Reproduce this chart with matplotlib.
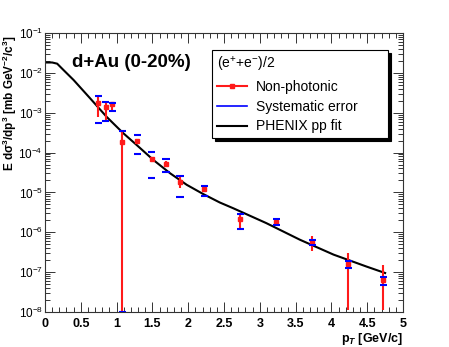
import numpy as np
import matplotlib
matplotlib.use('Agg')
import matplotlib.pyplot as plt
from matplotlib.lines import Line2D
from matplotlib.ticker import MultipleLocator, LogLocator, NullFormatter

plt.rcParams['font.family'] = ['Liberation Sans', 'DejaVu Sans']
plt.rcParams['mathtext.fontset'] = 'custom'
plt.rcParams['mathtext.rm'] = 'Liberation Sans:bold'
plt.rcParams['mathtext.it'] = 'Liberation Sans:bold:italic'
plt.rcParams['mathtext.bf'] = 'Liberation Sans:bold'

# Non-photonic electrons, d+Au 0-20%
pt = [0.745, 0.85, 0.94, 1.08, 1.29, 1.49, 1.69, 1.885, 2.225, 2.73, 3.23, 3.73, 4.235, 4.725]
yval = [1.79e-3, 1.37e-3, 1.62e-3, 1.86e-4, 2.0e-4, 6.8e-5, 5.1e-5, 1.86e-5, 1.2e-5,
        2.14e-6, 1.82e-6, 5.6e-7, 1.58e-7, 6.2e-8]
stat_lo = [7.9e-4, 6.3e-4, 1.12e-3, 1e-9, 1.87e-4, 6.0e-5, 4.6e-5, 1.29e-5, 1.07e-5,
           1.2e-6, 1.58e-6, 3.3e-7, 1.1e-8, 1.1e-8]
stat_hi = [2.5e-3, 2.0e-3, 1.82e-3, 3.4e-4, 2.14e-4, 7.6e-5, 6.0e-5, 2.5e-5, 1.41e-5,
           2.75e-6, 2.19e-6, 8.1e-7, 3.0e-7, 1.55e-7]
sys_lo = [5.5e-4, 6.3e-4, 1.1e-3, 1e-8, 9.3e-5, 2.3e-5, 3.2e-5, 7.9e-6, 8.3e-6,
          1.2e-6, 1.48e-6, 4.7e-7, 1.26e-7, 4.8e-8]
sys_hi = [2.7e-3, 1.9e-3, 1.78e-3, 3.55e-4, 2.8e-4, 1.05e-4, 6.8e-5, 2.6e-5, 1.48e-5,
          2.9e-6, 2.1e-6, 6.5e-7, 1.95e-7, 7.6e-8]

# PHENIX pp fit (scaled)
fit_pt = [0.0, 0.10, 0.17, 0.26, 0.40, 0.63, 0.86, 1.09, 1.28, 1.51, 1.75, 1.98, 2.21,
          2.44, 2.63, 3.09, 3.56, 4.03, 4.49, 4.75]
fit_y = [1.82e-2, 1.82e-2, 1.7e-2, 1.17e-2, 6.6e-3, 2.3e-3, 7.9e-4, 3.1e-4, 1.55e-4,
         6.6e-5, 3.0e-5, 1.55e-5, 9.1e-6, 5.6e-6, 4.0e-6, 1.7e-6, 6.5e-7, 2.75e-7,
         1.38e-7, 9.5e-8]

x = np.array(pt)
y = np.array(yval)

fig = plt.figure(figsize=(4.49, 3.47), dpi=100)
ax = fig.add_axes([0.1002, 0.1009, 0.7974, 0.8040])

ax.plot(fit_pt, fit_y, color='black', lw=1.5, zorder=2)

yerr = [y - np.array(stat_lo), np.array(stat_hi) - y]
ax.errorbar(x, y, yerr=yerr, fmt='s', color='#ff1a1a', ms=2.2, elinewidth=1.5,
            capsize=0, zorder=3)

hw = 0.05
ax.hlines(sys_hi, x - hw, x + hw, colors='#0000ff', lw=1.5, zorder=4)
ax.hlines(sys_lo, x - hw, x + hw, colors='#0000ff', lw=1.5, zorder=4)

ax.set_yscale('log')
ax.set_xlim(0, 5)
ax.set_ylim(1e-8, 1e-1)

ax.xaxis.set_major_locator(MultipleLocator(0.5))
ax.xaxis.set_minor_locator(MultipleLocator(0.1))
ax.yaxis.set_major_locator(LogLocator(base=10, numticks=20))
ax.yaxis.set_minor_locator(LogLocator(base=10, subs=np.arange(2, 10), numticks=20))
ax.yaxis.set_minor_formatter(NullFormatter())
ax.xaxis.set_major_formatter(plt.FuncFormatter(lambda v, p: '%g' % v))

ax.tick_params(which='both', direction='in', top=True, right=True, colors='#333333',
               labelcolor='black', labelsize=9, width=0.7)
ax.tick_params(which='major', length=7)
ax.tick_params(which='minor', length=3.5)
ax.tick_params(axis='x', pad=4)
ax.tick_params(axis='y', pad=1.5, labelsize=8.5)
for lab in ax.get_xticklabels():
    lab.set_fontweight('bold')
for s in ax.spines.values():
    s.set_color('#333333')
    s.set_linewidth(0.8)

ax.yaxis.label.set_visible(False)
ax.yaxis.get_offset_text().set_visible(False)
ax.xaxis.get_offset_text().set_visible(False)

fig.text(10 / 449, 1 - 35 / 347,
         r'E d$\mathregular{\sigma}^{3}$/dp$^{3}$ [mb GeV$^{-2}$/c$^{3}$]',
         rotation=90, fontsize=8.5, fontweight='bold', ha='center', va='top')
ax.set_xlabel(r'p$_{T}$ [GeV/c]', fontsize=9, fontweight='bold', loc='right',
              labelpad=1)

ax.text(0.075, 0.879, 'd+Au (0-20%)', transform=ax.transAxes, fontsize=13.5,
        fontweight='bold', va='baseline', ha='left')

handles = [
    Line2D([], [], color='#ff1a1a', lw=1.5, marker='s', ms=2.2),
    Line2D([], [], color='#0000ff', lw=1.2),
    Line2D([], [], color='black', lw=1.5),
]
labels = ['Non-photonic', 'Systematic error', 'PHENIX pp fit']
leg = ax.legend(handles, labels, title=r'(e$^{\mathregular{+}}$+e$^{\mathregular{-}}$)/2',
                loc='upper left', bbox_to_anchor=(0.4665, 0.627, 0.4915, 0.312),
                mode='expand', borderaxespad=0, fontsize=10, title_fontsize=10,
                handlelength=2.2, handletextpad=0.6, labelspacing=0.42,
                borderpad=0.35, fancybox=False, framealpha=1, edgecolor='black',
                shadow={'color': 'black', 'alpha': 1.0})
leg.get_frame().set_linewidth(0.8)
leg._legend_box.align = 'left'

fig.savefig('out.png', dpi=100)
